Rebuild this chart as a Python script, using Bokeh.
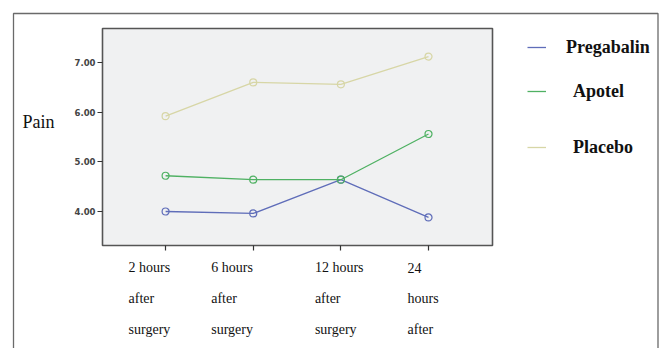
from bokeh.plotting import figure
from bokeh.models import (Range1d, FixedTicker, Legend, LegendItem,
                          CustomJSTickFormatter, NumeralTickFormatter, ColumnDataSource)
from bokeh.core.properties import value
from bokeh.embed import file_html
from bokeh.resources import INLINE

# ---- data ----
timepoints = ["2 hours after surgery", "6 hours after surgery",
              "12 hours after surgery", "24 hours after"]
tick_lines = [["2 hours", "after", "surgery"],
              ["6 hours", "after", "surgery"],
              ["12 hours", "after", "surgery"],
              ["24", "hours", "after"]]
pregabalin = [4.00, 3.96, 4.64, 3.88]
apotel = [4.72, 4.64, 4.64, 5.56]
placebo = [5.92, 6.60, 6.56, 7.12]
y_ticks = [4.0, 5.0, 6.0, 7.0]
y_label = "Pain"
series_names = ["Pregabalin", "Apotel", "Placebo"]
series_colors = ["#5f6db9", "#4fb163", "#d7d6a6"]

xs = list(range(len(timepoints)))

# ---- layout (canvas pixels) ----
W, H = 659, 348
FL, FT, FR, FB = 102, 28, 492, 245          # plot area box
PX0, PX1 = -0.72, 3.73                       # plot area x extent (data)
PY0, PY1 = 3.315, 7.685                      # plot area y extent (data)
SX = (FR - FL) / (PX1 - PX0)
SY = (FB - FT) / (PY1 - PY0)
X0, X1 = PX0 - FL / SX, PX0 + (W - FL) / SX
Y1 = PY1 + FT / SY
Y0 = Y1 - H / SY

def dx(px):
    return X0 + px / SX

def dy(py):
    return Y1 - py / SY

p = figure(width=W, height=H, output_backend="svg", toolbar_location=None,
           title=None, x_range=Range1d(X0, X1), y_range=Range1d(Y0, Y1),
           min_border=0)
p.background_fill_color = "white"
p.border_fill_color = "white"
p.outline_line_color = None
p.grid.visible = False

# outer frame
p.quad(left=[dx(13)], right=[dx(657.5)], top=[dy(13)], bottom=[dy(400)],
       fill_color=None, line_color="#6a6a6a", line_width=1.3)
# plot area
p.quad(left=[PX0], right=[PX1], top=[PY1], bottom=[PY0],
       fill_color="#f0f1f2", line_color="#555555", line_width=1.6)

# y axis (fixed at plot-area left)
p.yaxis.fixed_location = PX0
p.yaxis.ticker = FixedTicker(ticks=y_ticks)
p.yaxis.formatter = NumeralTickFormatter(format="0.00")
p.yaxis.axis_line_color = None
p.yaxis.major_tick_line_color = "#333333"
p.yaxis.major_tick_line_width = 1.2
p.yaxis.major_tick_out = 5
p.yaxis.major_tick_in = 0
p.yaxis.minor_tick_line_color = None
p.yaxis.major_label_standoff = 2
p.yaxis.major_label_text_font = "DejaVu Sans"
p.yaxis.major_label_text_font_size = "8.5px"
p.yaxis.major_label_text_font_style = "bold"
p.yaxis.major_label_text_color = "#444444"

# x axis (fixed at plot-area bottom): ticks only
p.xaxis.fixed_location = PY0
p.xaxis.ticker = FixedTicker(ticks=xs)
p.xaxis.formatter = CustomJSTickFormatter(code="return ''")
p.xaxis.axis_line_color = None
p.xaxis.major_tick_line_color = "#333333"
p.xaxis.major_tick_line_width = 1.2
p.xaxis.major_tick_out = 5
p.xaxis.major_tick_in = 0
p.xaxis.minor_tick_line_color = None

renderers = []
for name, vals, col in zip(series_names, [pregabalin, apotel, placebo], series_colors):
    r = p.line(xs, vals, line_color=col, line_width=1.3)
    p.scatter(xs, vals, marker="circle", size=7, line_color=col, fill_color=None, line_width=1.2)
    renderers.append(r)

# multi-line x tick labels (text glyphs below the ticks)
x_offsets = [-37, -42, -26, -21]
row_px = [267, 298, 329]
lx, ly, lt, lo = [], [], [], []
for xi, lines, off in zip(xs, tick_lines, x_offsets):
    for txt, py in zip(lines, row_px):
        lx.append(xi)
        ly.append(dy(py))
        lt.append(txt)
        lo.append(off)
src = ColumnDataSource(dict(x=lx, y=ly, text=lt, xo=lo))
p.text(x="x", y="y", text="text", x_offset="xo", source=src,
       text_font=value("Liberation Serif"), text_font_size=value("14px"),
       text_baseline="middle", text_align="left", text_color="#111111")

# y label
p.text(x=[dx(22)], y=[dy(121)], text=[y_label],
       text_font=value("Liberation Serif"), text_font_size=value("18px"),
       text_baseline="middle", text_align="left", text_color="#111111")

# legends (one per entry, to match the uneven spacing)
leg_centers = [47, 91, 147]
leg_standoff = [20, 27, 27]
for name, r, cy, so in zip(series_names, renderers, leg_centers, leg_standoff):
    lg = Legend(items=[LegendItem(label=name, renderers=[r])],
                location=(527, H - (cy + 10.5)), orientation="vertical",
                glyph_width=19, glyph_height=20, label_height=20,
                label_standoff=so, padding=0, margin=0,
                border_line_color=None, background_fill_alpha=0,
                label_text_font="Liberation Serif", label_text_font_size="18px",
                label_text_font_style="bold", label_text_color="#111111")
    p.add_layout(lg)

open("out.html", "w").write(file_html(p, INLINE))
